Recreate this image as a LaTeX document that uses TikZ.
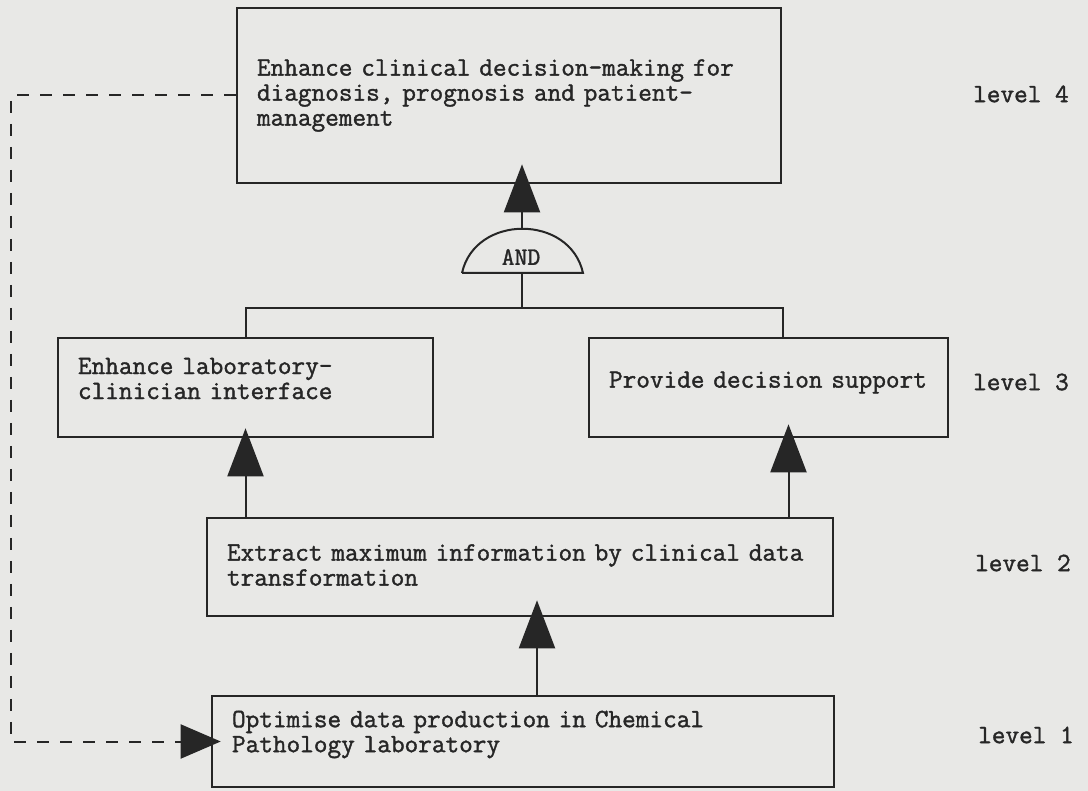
\documentclass[tikz,border=0pt]{standalone}
\usepackage{fontspec}
\newfontfamily\typefont{Latin Modern Mono}[FakeBold=1.4]
\usepackage{tikz}
\usetikzlibrary{arrows.meta, positioning, calc}
\definecolor{paper}{RGB}{232, 232, 230}
\definecolor{ink}{RGB}{38, 38, 38}

\begin{document}
\begin{tikzpicture}[x=1pt, y=-1pt,
  goal/.style={draw=ink, line width=2.6pt, align=left, inner xsep=20pt, inner ysep=0pt, text=ink, font=\typefont\fontsize{26.5}{25}\selectfont},
  levellabel/.style={anchor=west, inner sep=0pt, text=ink, font=\typefont\fontsize{26.5}{25}\selectfont},
  link/.style={draw=ink, line width=2pt},
  upflow/.style={link, -{Triangle[length=48pt, width=36pt]}},
  feedback/.style={link, dash pattern=on 12pt off 11pt, -{Triangle[length=40pt, width=34pt]}}]

  % paper
  \fill[paper] (0,0) rectangle (1088,791);

  % Goals, one box per level
  \node[goal, text width=504pt, minimum height=175pt] (l4) at (509,95.5) {
    Enhance clinical decision-making for\\
    diagnosis, prognosis and patient-\\
    management};
  \node[goal, text width=335pt, minimum height=99pt] (l3a) at (245.5,387.5) {
    Enhance laboratory-\\
    clinician interface\par\vspace*{18pt}};
  \node[goal, text width=319pt, minimum height=99pt] (l3b) at (768.5,387.5) {
    Provide decision support\par\vspace*{10pt}};
  \node[goal, text width=586pt, minimum height=98pt] (l2) at (520,567) {
    Extract maximum information by clinical data\\
    transformation\par\vspace*{4pt}};
  \node[goal, text width=582pt, minimum height=91pt] (l1) at (523,741.5) {
    Optimise data production in Chemical\\
    Pathology laboratory\par\vspace*{14pt}};

  % Level labels
  \node[levellabel] (lv4) at (973,94) {level 4};
  \node[levellabel] (lv3) at (973,382) {level 3};
  \node[levellabel] (lv2) at (975,563) {level 2};
  \node[levellabel] (lv1) at (978,735) {level 1};

  % AND gate
  \coordinate (andbase) at (522,273);
  \coordinate (andtop) at (522,229);
  \draw[link] (462,273) -- (583,273) .. controls (570,214) and (475,214) .. (462,273);
  \node[text=ink, inner sep=0pt, font=\typefont\fontsize{25}{25}\selectfont] (gate) at (521,257) {AND};

  % Links between levels
  \draw[upflow] (andtop) -- ([yshift=20pt]andtop |- l4.south);
  \draw[link] (andbase) -- (522,308) coordinate (fork);
  \draw[link] (l3a.north) |- (fork) -| ([xshift=14pt]l3b.north);
  \coordinate (rfoot) at ($(l3b.south)+(20,0)$);
  \draw[upflow] (l3a.south |- l2.north) -- ([yshift=10pt]l3a.south);
  \draw[upflow] (rfoot |- l2.north) -- ([yshift=14pt]rfoot);
  \draw[upflow] ([xshift=14pt]l1.north) -- ([xshift=17pt,yshift=17pt]l2.south);

  % Feedback from level 4 to level 1
  \coordinate (loop) at (11,0);
  \draw[feedback] (l4.west) -- (l4.west -| loop) -- (loop |- l1.west) -- ([xshift=10pt]l1.west);
\end{tikzpicture}
\end{document}
